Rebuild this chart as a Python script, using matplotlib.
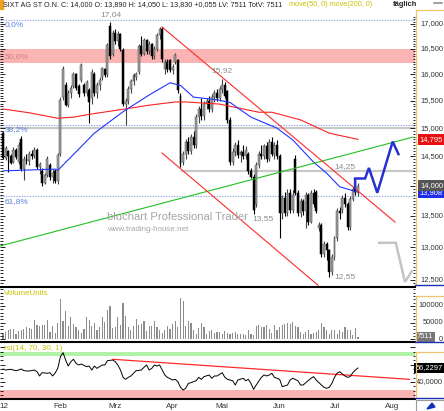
import numpy as np
import pandas as pd
import matplotlib
matplotlib.use("Agg")
import matplotlib.pyplot as plt
import matplotlib.transforms as mtrans
from matplotlib.lines import Line2D
from matplotlib.patches import Rectangle, Polygon
from matplotlib.ticker import FixedLocator, NullFormatter

plt.rcParams['font.family'] = ['Liberation Sans', 'DejaVu Sans']

W, H = 444, 411

# SIXT AG St, daily candles 2 Jan - 13 Jul 2012 (one value per trading day)
opens = [
    14.91, 14.47, 14.60, 14.50, 14.40, 14.62, 14.40, 14.80, 14.28, 14.46, 14.42, 14.55, 14.50, 14.62, 14.32, 14.25, 14.05, 14.18, 14.35, 14.15, 14.25, 14.07,
    14.55, 15.58, 15.80, 15.42, 15.65, 15.78, 16.00, 15.78, 15.90, 15.80, 15.64, 15.70, 15.55, 16.00, 15.64, 15.80, 15.95, 16.10, 16.00, 16.95, 16.40,
    16.82, 16.65, 16.80, 16.48, 15.45, 15.50, 15.72, 15.88, 15.95, 16.05, 16.55, 16.40, 16.68, 16.45, 16.60, 16.35, 16.50, 16.78, 16.90, 16.10, 16.25, 16.28,
    16.08, 16.25, 16.28, 15.60, 14.40, 14.55, 14.75, 14.60, 14.85, 14.70, 15.20, 15.35, 15.22, 15.45, 15.50, 15.35, 15.58, 15.65, 15.55,
    15.72, 15.80, 15.68, 15.15, 14.40, 14.58, 14.70, 14.52, 14.58, 14.50, 14.55, 14.25, 14.15, 13.70, 14.35, 14.55, 14.50, 14.68, 14.45, 14.75, 14.55, 14.70,
    14.50, 13.55, 13.80, 13.55, 13.88, 13.60, 14.45, 13.88, 13.55, 13.75, 13.58, 13.85, 13.40, 13.88, 13.90, 13.30, 13.35, 12.90, 13.05, 12.95, 12.62,
    12.85, 13.15, 13.58, 13.60, 13.80, 13.70, 13.32, 13.78, 13.95, 13.89,
]
highs = [
    14.95, 14.68, 14.62, 14.55, 14.66, 14.64, 14.75, 14.86, 14.50, 14.55, 14.60, 14.62, 14.66, 14.64, 14.40, 14.30, 14.22, 14.50, 14.38, 14.28, 14.28, 14.56,
    15.58, 16.16, 15.85, 15.70, 15.80, 16.05, 16.02, 15.82, 16.22, 15.84, 15.90, 15.75, 16.10, 16.05, 15.85, 15.95, 16.15, 16.12, 16.62, 17.04, 16.88,
    16.90, 16.85, 16.82, 16.52, 15.55, 15.78, 15.92, 16.02, 16.05, 16.60, 16.75, 16.72, 16.70, 16.65, 16.62, 16.55, 16.82, 16.94, 16.93, 16.30, 16.30, 16.30,
    16.20, 16.42, 16.30, 15.65, 14.60, 14.80, 14.85, 14.90, 14.95, 15.25, 15.40, 15.55, 15.50, 15.55, 15.60, 15.62, 15.70, 15.72, 15.78,
    15.92, 15.85, 15.70, 15.20, 14.65, 14.75, 14.78, 14.62, 14.70, 14.68, 14.58, 14.30, 14.20, 14.40, 14.60, 14.70, 14.72, 14.75, 14.80, 14.85, 14.75, 14.78,
    14.55, 13.85, 13.90, 13.95, 13.95, 13.92, 14.53, 13.92, 13.80, 13.78, 13.90, 13.88, 13.92, 13.95, 13.92, 13.40, 13.38, 13.10, 13.08, 12.98, 12.90,
    13.18, 13.62, 13.65, 13.85, 13.88, 13.72, 13.82, 13.98, 14.10, 14.05,
]
lows = [
    14.45, 14.44, 14.23, 14.36, 14.38, 14.45, 14.36, 14.24, 14.10, 14.36, 14.35, 14.45, 14.48, 14.28, 14.20, 14.00, 14.02, 14.15, 14.10, 14.05, 14.04, 14.03,
    14.50, 15.52, 15.40, 15.38, 15.55, 15.75, 15.70, 15.58, 15.85, 15.60, 15.60, 15.10, 15.45, 15.60, 15.55, 15.70, 15.90, 15.95, 15.95, 16.30, 16.35,
    16.60, 16.55, 16.45, 15.40, 15.06, 15.45, 15.65, 15.80, 15.90, 16.00, 16.35, 16.38, 16.40, 16.40, 16.30, 16.30, 16.45, 16.70, 16.25, 16.00, 16.05, 16.05,
    16.00, 16.20, 15.65, 14.32, 14.35, 14.45, 14.55, 14.55, 14.65, 14.65, 15.10, 15.15, 15.15, 15.35, 15.30, 15.30, 15.48, 15.50, 15.50,
    15.65, 15.55, 15.10, 14.35, 14.35, 14.50, 14.48, 14.40, 14.45, 14.45, 14.20, 14.12, 13.53, 13.65, 14.30, 14.45, 14.45, 14.40, 14.42, 14.50, 14.45, 14.45,
    13.15, 13.45, 13.50, 13.50, 13.55, 13.55, 13.85, 13.50, 13.48, 13.52, 13.30, 13.35, 13.38, 13.65, 13.55, 13.25, 12.85, 12.85, 12.80, 12.55, 12.58,
    12.80, 13.10, 13.45, 13.55, 13.65, 13.28, 13.28, 13.75, 13.85, 13.83,
]
closes = [
    14.47, 14.64, 14.50, 14.39, 14.62, 14.49, 14.70, 14.28, 14.46, 14.42, 14.55, 14.50, 14.62, 14.32, 14.36, 14.05, 14.18, 14.45, 14.15, 14.22, 14.07, 14.53,
    15.52, 16.10, 15.42, 15.65, 15.75, 16.00, 15.74, 15.62, 16.18, 15.64, 15.86, 15.48, 16.05, 15.64, 15.80, 15.90, 16.12, 15.98, 16.58, 16.35, 16.82,
    16.65, 16.80, 16.50, 15.45, 15.50, 15.72, 15.88, 15.98, 16.00, 16.55, 16.40, 16.68, 16.45, 16.60, 16.35, 16.50, 16.78, 16.90, 16.30, 16.25, 16.10, 16.08,
    16.15, 16.38, 15.70, 14.36, 14.55, 14.75, 14.60, 14.85, 14.70, 15.20, 15.35, 15.22, 15.45, 15.50, 15.35, 15.58, 15.65, 15.55, 15.72,
    15.80, 15.60, 15.15, 14.40, 14.58, 14.70, 14.52, 14.58, 14.50, 14.62, 14.25, 14.15, 13.60, 14.35, 14.55, 14.50, 14.68, 14.45, 14.75, 14.55, 14.70, 14.50,
    13.55, 13.80, 13.55, 13.88, 13.60, 13.85, 13.88, 13.55, 13.75, 13.58, 13.85, 13.40, 13.88, 13.70, 13.58, 13.35, 12.90, 13.05, 12.95, 12.62, 12.85,
    13.15, 13.58, 13.55, 13.80, 13.70, 13.32, 13.78, 13.95, 13.90, 14.00,
]
# volume in thousands of shares
volume_k = [
    17, 22, 27, 30, 32, 17, 25, 29, 30, 37, 35, 32, 58, 44, 39, 44, 44, 59, 22, 39, 19, 50,
    122, 56, 85, 39, 66, 47, 37, 29, 19, 32, 66, 58, 39, 50, 29, 37, 66, 51, 88, 100, 35,
    37, 66, 42, 110, 71, 37, 29, 39, 61, 42, 47, 54, 25, 39, 39, 54, 37, 27, 19, 29, 39, 30,
    45, 56, 37, 124, 115, 40, 56, 49, 27, 17, 35, 49, 37, 16, 25, 29, 19, 22, 22,
    17, 24, 19, 16, 19, 22, 17, 16, 16, 13, 29, 17, 13, 39, 42, 37, 37, 42, 32, 19, 42, 29,
    37, 44, 47, 49, 47, 51, 39, 37, 22, 17, 22, 29, 17, 19, 22, 29, 49, 37, 29, 17, 29,
    27, 17, 29, 22, 37, 29, 27, 13, 35, 7.511,
]

# moving averages (trading-day index, price)
ma50_idx = [0, 20, 21, 28, 35, 46, 56, 64, 68, 73, 82, 87, 95, 105, 111, 119, 124, 129, 136]
ma50_val = [14.25, 14.28, 14.26, 14.58, 14.91, 15.30, 15.61, 15.84, 15.79, 15.57, 15.52, 15.47,
            15.20, 15.00, 14.79, 14.40, 14.21, 13.98, 13.89]
ma200_idx = [0, 10, 21, 27, 33, 37, 44, 56, 66, 70, 83, 98, 103, 114, 125, 136]
ma200_val = [15.35, 15.28, 15.18, 15.20, 15.25, 15.28, 15.33, 15.42, 15.48, 15.48, 15.44, 15.29,
             15.29, 15.15, 14.91, 14.80]

rsi_idx = [0, 1, 3, 5, 6, 7, 8, 10, 12, 13, 14, 15, 17, 18, 19, 20, 21, 22, 23, 24,
           25, 26, 27, 28, 29, 30, 32, 33, 34, 35, 36, 38, 39, 40, 42, 43, 44, 45, 46, 47,
           48, 49, 50, 51, 53, 54, 55, 56, 57, 58, 59, 60, 61, 62, 63, 65, 66, 67, 68, 69,
           70, 71, 72, 74, 75, 76, 77, 79, 80, 81, 82, 84, 85, 86, 88, 89, 90, 92, 93, 94,
           95, 96, 97, 99, 100, 101, 102, 103, 104, 105, 106, 107, 109, 110, 111, 113, 114, 115, 116, 118,
           119, 120, 122, 123, 124, 125, 126, 127, 128, 129, 130, 131, 132, 133, 134, 135, 136]
rsi_val = [55.1, 53.9, 54.7, 53.1, 53.9, 55.1, 53.1, 52.7, 53.9, 52.0, 47.0, 50.8, 50.1, 50.8, 47.0, 50.5, 56.0, 69.3, 74.0, 65.5,
           58.5, 63.6, 66.3, 61.6, 59.7, 60.8, 57.8, 58.5, 53.9, 58.5, 55.8, 59.7, 59.7, 64.7, 65.5, 63.6, 59.7, 53.9, 45.4, 43.1,
           45.4, 47.0, 50.1, 53.1, 53.9, 57.0, 59.7, 53.9, 55.8, 59.7, 58.5, 59.7, 53.9, 48.1, 45.4, 42.3, 43.1, 40.4, 33.8, 30.7,
           32.7, 38.4, 39.2, 41.5, 45.4, 43.1, 46.2, 48.1, 44.3, 47.0, 47.0, 50.8, 45.4, 43.1, 41.5, 36.5, 42.3, 44.3, 41.5, 43.1,
           38.4, 31.5, 36.5, 45.4, 48.1, 47.0, 48.1, 50.1, 45.4, 44.3, 43.1, 34.6, 36.5, 42.3, 44.3, 41.5, 36.5, 36.5, 39.2, 44.3,
           46.2, 42.3, 36.5, 33.8, 32.7, 33.8, 38.4, 45.4, 50.1, 52.0, 49.3, 47.0, 45.4, 46.2, 50.8, 53.9, 56.23]

# hand-drawn objects (trading-day index, value)
green_idx, green_val = [-1.15, 157.1], [13.02, 14.84]
chan_up_idx, chan_up_val = [60.9, 150.2], [16.94, 13.40]
chan_lo_idx, chan_lo_val = [60.9, 120.7], [14.56, 12.42]
proj_idx = [134.9, 134.9, 138.7, 140.2, 143.4, 149.3, 151.5]
proj_val = [13.96, 14.12, 14.12, 14.30, 13.88, 14.76, 14.54]
proj2_idx = [144.1, 150.5, 154.0, 156.6]
proj2_val = [13.07, 13.07, 12.47, 12.63]
rsi_tr_idx, rsi_tr_val = [42.1, 155.7], [66.3, 43.1]

fib_levels = [17.08, 15.06, 13.83]
fib_names = ["0,0%", "38,2%", "61,8%"]
price_ticks = [12.5, 13.0, 13.5, 14.0, 14.5, 15.0, 15.5, 16.0, 16.5, 17.0]
month_names = ["Feb", "Mrz", "Apr", "Mai", "Jun", "Jul", "Aug"]

# trading calendar (Xetra holidays removed)
days = pd.bdate_range("2012-01-02", "2012-08-31")
days = days[~days.isin(pd.to_datetime(["2012-04-06", "2012-04-09", "2012-05-01"]))]
month_pos = [int(np.argmax(days.month == m)) for m in range(2, 9)]

x = np.arange(len(closes))
o, h, l, c = map(np.array, (opens, highs, lows, closes))
up = c >= o

fig = plt.figure(figsize=(W / 100, H / 100), dpi=100)
fig.patch.set_facecolor('white')


def fx(px):
    return px / W


def fy(py):
    return 1 - py / H


def panel(top, bottom):
    return fig.add_axes([0, fy(bottom), fx(415), (bottom - top) / H])


ax = panel(13, 286)
ax_v = panel(287, 342)
ax_r = panel(343, 399)

for a in (ax, ax_v, ax_r):
    a.set_xlim(-1.15, 157.85)
    for s in a.spines.values():
        s.set_visible(False)
    a.tick_params(axis='x', which='both', bottom=False, labelbottom=False)
    a.tick_params(axis='y', which='both', direction='in', left=True, right=True,
                  labelleft=False, labelright=False, width=0.6)
    a.tick_params(axis='y', which='major', length=3.5)
    a.tick_params(axis='y', which='minor', length=1.8)

# ---------- price panel ----------
ax.set_yscale('log')
ax.set_ylim(12.409, 17.226)
ax.yaxis.set_major_locator(FixedLocator(price_ticks))
ax.yaxis.set_minor_locator(FixedLocator(np.arange(12.45, 17.2, 0.05)))
ax.yaxis.set_major_formatter(NullFormatter())
ax.yaxis.set_minor_formatter(NullFormatter())

ax.axhspan(16.22, 16.50, color='#fbb4b4', lw=0, zorder=0)
ax.axhline(15.00, color='#c8c8c8', lw=1.6, zorder=1)
ax.plot([68.6, 157.85], [14.25, 14.25], color='#c8c8c8', lw=1.6, zorder=1)
for lv in fib_levels:
    ax.axhline(lv, color='#8fa6f0', lw=0.8, ls=(0, (1.2, 1.2)), zorder=1)

ax.vlines(x[up], l[up], h[up], color='#444444', lw=0.8, zorder=3)
ax.vlines(x[~up], l[~up], h[~up], color='black', lw=0.8, zorder=3)
ax.bar(x[up], (c - o)[up], bottom=o[up], width=0.75, color='#a0a0a0',
       edgecolor='#4a4a4a', lw=0.35, zorder=4)
ax.bar(x[~up], (o - c)[~up], bottom=c[~up], width=0.75, color='black',
       edgecolor='black', lw=0.35, zorder=4)

ax.plot(ma200_idx, ma200_val, color='#ff2020', lw=0.8, zorder=5)
ax.plot(ma50_idx, ma50_val, color='#2035ff', lw=0.8, zorder=5)
ax.plot(green_idx, green_val, color='#22c022', lw=0.8, zorder=5)
ax.plot(chan_up_idx, chan_up_val, color='#ff2a2a', lw=0.8, zorder=5)
ax.plot(chan_lo_idx, chan_lo_val, color='#ff2a2a', lw=0.8, zorder=5)
ax.plot(proj_idx, proj_val, color='#2830d0', lw=1.8, zorder=6, solid_joinstyle='miter')
ax.plot(proj2_idx, proj2_val, color='#c4c4c4', lw=1.8, zorder=6, solid_joinstyle='miter')

# texts inside the price panel
gray_t = '#8a8a8a'
fig.text(fx(111), fy(15), "17,04", ha='center', va='center', fontsize=6, color=gray_t)
fig.text(fx(222), fy(71), "15,92", ha='center', va='center', fontsize=6, color=gray_t)
fig.text(fx(345), fy(167), "14,25", ha='center', va='center', fontsize=6, color=gray_t)
fig.text(fx(263), fy(219), "13,55", ha='center', va='center', fontsize=6, color=gray_t)
fig.text(fx(345), fy(277), "12,55", ha='center', va='center', fontsize=6, color=gray_t)
for py, name in zip([25, 130, 202], fib_names):
    fig.text(fx(5), fy(py), name, va='center', fontsize=6, color='#5b80e0')
fig.text(fx(5), fy(57), "50,0%", va='center', fontsize=6, color='#d08080')
fig.text(fx(107), fy(217), "bluchart Professional Trader", va='center', fontsize=8.1,
         color='#a6a6a6')
fig.text(fx(107), fy(229), "www.trading-house.net", va='center', fontsize=5.8, color='#a6a6a6')

tr = mtrans.blended_transform_factory(fig.transFigure, ax.transData)
for v in price_ticks:
    ax.text(fx(443), v, f"{v:.3f}".replace('.', ','), transform=tr, ha='right', va='center',
            fontsize=5.4, color='#333333')
ax.text(fx(443), 14.795, "14,795", transform=tr, ha='right', va='center', fontsize=5.4,
        color='white', bbox=dict(boxstyle='square,pad=0.25', fc='#e81010', ec='none'))
ax.text(fx(443), 13.88, "13,908", transform=tr, ha='right', va='center', fontsize=5.4,
        color='white', bbox=dict(boxstyle='square,pad=0.25', fc='#1e2ee8', ec='none'))
ax.text(fx(443), 14.00, "14,000", transform=tr, ha='right', va='center', fontsize=5.4,
        color='white', bbox=dict(boxstyle='square,pad=0.25', fc='#555555', ec='none'))

# ---------- volume panel ----------
ax_v.set_ylim(-8100, 157000)
ax_v.bar(x, np.array(volume_k) * 1000, width=0.45, color='#8c8c8c', lw=0)
ax_v.yaxis.set_major_locator(FixedLocator([0, 50000, 100000]))
ax_v.yaxis.set_minor_locator(FixedLocator(np.arange(0, 150001, 10000)))
ax_v.yaxis.set_major_formatter(NullFormatter())
ax_v.yaxis.set_minor_formatter(NullFormatter())
fig.text(fx(4), fy(293), "VolumeUnits", va='center', fontsize=5.8, color='#c8c400')
tr_v = mtrans.blended_transform_factory(fig.transFigure, ax_v.transData)
for v, s in [(100000, "100000"), (50000, "50000"), (0, "0")]:
    ax_v.text(fx(443), v, s, transform=tr_v, ha='right', va='center', fontsize=5.4, color='#333333')
ax_v.text(fx(417), 7511, "7511", transform=tr_v, ha='left', va='center', fontsize=5.4,
          color='white', bbox=dict(boxstyle='square,pad=0.2', fc='#777777', ec='none'))

# ---------- RSI panel ----------
ax_r.set_ylim(20.3, 85.2)
ax_r.axhspan(70, 74.6, color='#b2f2a8', lw=0, zorder=0)
ax_r.axhspan(21.2, 30.7, color='#fbb4b4', lw=0, zorder=0)
ax_r.plot(rsi_tr_idx, rsi_tr_val, color='#ff2a2a', lw=0.9, zorder=2)
ax_r.plot(rsi_idx, rsi_val, color='black', lw=0.7, zorder=3)
ax_r.yaxis.set_major_locator(FixedLocator([40, 60, 80]))
ax_r.yaxis.set_minor_locator(FixedLocator(np.arange(25, 85, 5)))
ax_r.yaxis.set_major_formatter(NullFormatter())
ax_r.yaxis.set_minor_formatter(NullFormatter())
fig.text(fx(4), fy(348), "rsi(14, 70, 30, 1)", va='center', fontsize=5.8, color='#c8c400')
tr_r = mtrans.blended_transform_factory(fig.transFigure, ax_r.transData)
ax_r.text(fx(443), 40, "40,0000", transform=tr_r, ha='right', va='center', fontsize=5.4, color='#333333')
ax_r.text(fx(443), 56.23, "56,2297", transform=tr_r, ha='right', va='center', fontsize=5.4,
          color='white', bbox=dict(boxstyle='square,pad=0.2', fc='black', ec='none'))

# month labels
tr_x = mtrans.blended_transform_factory(ax_r.transData, fig.transFigure)
ax_r.text(0.4, fy(406), "12", transform=tr_x, ha='center', va='center', fontsize=5.8, color='#333333')
for pos, name in zip(month_pos, month_names):
    ax_r.text(pos, fy(406), name, transform=tr_x, ha='center', va='center', fontsize=5.8,
              color='#333333')

# ---------- frame pieces ----------
def fig_line(x0, x1, y0, y1, color, lw):
    fig.add_artist(Line2D([fx(x0), fx(x1)], [fy(y0), fy(y1)], color=color, lw=lw,
                          transform=fig.transFigure))


for py in (286.5, 342, 399):
    fig_line(0, 415, py, py, 'black', 1.5)
for top, bottom in [(10, 285), (296, 341.5), (352, 398)]:
    fig_line(415.5, 415.5, top, bottom, '#f2c36a', 0.9)
    fig_line(415.5, 444, top, top, '#f2c36a', 0.9)
    fig_line(415, 444, bottom, bottom, '#1c2fb0', 1.0)

fig.add_artist(Rectangle((0, fy(9)), fx(2.5), 9 / H, color='#f0a020', transform=fig.transFigure))
fig_line(434, 442, 3, 3, '#909090', 1.2)
fig.add_artist(Rectangle((fx(415.5), fy(411)), fx(28.5), 11 / H, fc='white', ec='#9a9a9a',
                         lw=0.8, transform=fig.transFigure))
fig.add_artist(Polygon([(fx(427), fy(409)), (fx(432), fy(403)), (fx(435), fy(407))],
                       closed=True, color='#1030c0', transform=fig.transFigure))

# header
fig.text(fx(3), fy(5), "SIXT AG ST O.N. C: 14,000 O: 13,890 H: 14,050 L: 13,830 +0,055 LV: 7511 TotV: 7511",
         va='center', fontsize=5.25, color='#222222')
fig.text(fx(289), fy(5), "move(50, 0) move(200, 0)", va='center', fontsize=5.25, color='#c8c400')
fig.text(fx(393), fy(5), "täglich", va='center', fontsize=5.4, color='#222222', fontweight='bold')

fig.savefig("out.png", dpi=100, facecolor='white')
